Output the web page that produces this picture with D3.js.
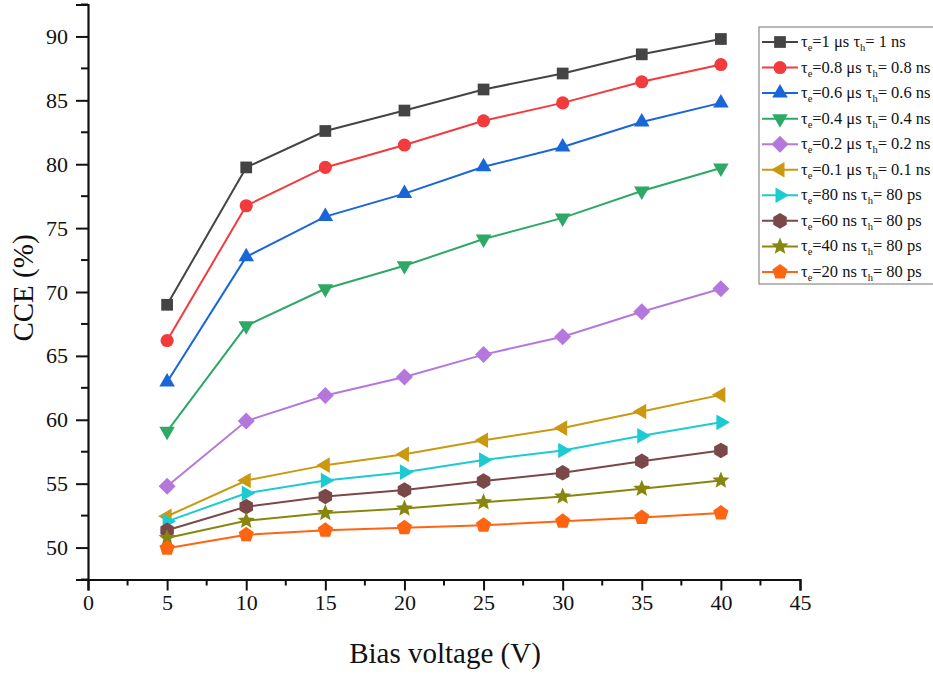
<!DOCTYPE html>
<html>
<head>
<meta charset="utf-8">
<script src="https://cdn.jsdelivr.net/npm/d3@7"></script>
<style>
  body { margin: 0; background: #fff; }
  text { font-family: "Liberation Serif", "Times New Roman", serif; }
</style>
</head>
<body>
<svg id="chart" width="933" height="678"></svg>
<script>
// bias voltage (V)
const voltages = [5, 10, 15, 20, 25, 30, 35, 40];

// CCE (%) per lifetime pair
const cce_1us   = [69.0, 79.75, 82.6, 84.2, 85.85, 87.1, 88.6, 89.8];
const cce_08us  = [66.2, 76.75, 79.75, 81.5, 83.4, 84.8, 86.45, 87.8];
const cce_06us  = [62.95, 72.75, 75.9, 77.7, 79.8, 81.35, 83.3, 84.8];
const cce_04us  = [59.1, 67.35, 70.25, 72.05, 74.15, 75.8, 77.9, 79.7];
const cce_02us  = [54.8, 59.9, 61.9, 63.35, 65.1, 66.5, 68.45, 70.25];
const cce_01us  = [52.45, 55.25, 56.45, 57.3, 58.4, 59.35, 60.65, 61.95];
const cce_80ns  = [52.05, 54.25, 55.25, 55.9, 56.85, 57.6, 58.75, 59.8];
const cce_60ns  = [51.35, 53.2, 54.0, 54.5, 55.2, 55.85, 56.75, 57.6];
const cce_40ns  = [50.75, 52.1, 52.7, 53.05, 53.55, 54.0, 54.6, 55.25];
const cce_20ns  = [49.95, 51.0, 51.35, 51.55, 51.75, 52.05, 52.35, 52.7];

const tauE = ["1 μs", "0.8 μs", "0.6 μs", "0.4 μs", "0.2 μs", "0.1 μs", "80 ns", "60 ns", "40 ns", "20 ns"];
const tauH = ["1 ns", "0.8 ns", "0.6 ns", "0.4 ns", "0.2 ns", "0.1 ns", "80 ps", "80 ps", "80 ps", "80 ps"];

const xTicks = [0, 5, 10, 15, 20, 25, 30, 35, 40, 45];
const yTicks = [50, 55, 60, 65, 70, 75, 80, 85, 90];

const colors = ["#444444", "#f23b3d", "#1966d8", "#2ea865", "#b478dd", "#cb990f", "#1ccbd1", "#7a4848", "#878710", "#ff6511"];
const shapes = ["square", "circle", "up", "down", "diamond", "left", "right", "hexagon", "star", "pentagon"];

const seriesValues = [cce_1us, cce_08us, cce_06us, cce_04us, cce_02us, cce_01us, cce_80ns, cce_60ns, cce_40ns, cce_20ns];
const series = seriesValues.map((vals, i) => ({
  id: i,
  color: colors[i],
  shape: shapes[i],
  e: tauE[i],
  h: tauH[i],
  points: vals.map((v, j) => ({ x: voltages[j], y: v }))
}));

const svg = d3.select("#chart");

const xScale = d3.scaleLinear().domain([0, 45]).range([88, 800]);
const yScale = d3.scaleLinear().domain([47.5, 92.5]).range([579.5, 4.5]);

// marker outlines
const polygon = (n, r, rot) => {
  const pts = d3.range(n).map(k => {
    const a = rot + k * 2 * Math.PI / n;
    return [r * Math.cos(a), r * Math.sin(a)];
  });
  return "M" + pts.map(p => p.join(",")).join("L") + "Z";
};
const starPath = (ro, ri) => {
  const pts = d3.range(10).map(k => {
    const a = -Math.PI / 2 + k * Math.PI / 5;
    const r = k % 2 ? ri : ro;
    return [r * Math.cos(a), r * Math.sin(a)];
  });
  return "M" + pts.map(p => p.join(",")).join("L") + "Z";
};
const markerPath = (shape) => {
  switch (shape) {
    case "square": return polygon(4, 8.3, Math.PI / 4);
    case "circle": return d3.symbol(d3.symbolCircle, 135)();
    case "up": return polygon(3, 9, -Math.PI / 2);
    case "down": return polygon(3, 9, Math.PI / 2);
    case "left": return polygon(3, 9, Math.PI);
    case "right": return polygon(3, 9, 0);
    case "diamond": return polygon(4, 8.5, 0);
    case "hexagon": return polygon(6, 7.8, -Math.PI / 2);
    case "star": return starPath(9, 4);
    case "pentagon": return polygon(5, 8, -Math.PI / 2);
  }
};

// axes
const xAxis = d3.axisBottom(xScale).tickValues(xTicks).tickSize(11).tickPadding(4).tickFormat(d3.format("d"));
const yAxis = d3.axisLeft(yScale).tickValues(yTicks).tickSize(12).tickPadding(8).tickFormat(d3.format("d"));

const gx = svg.append("g").attr("transform", `translate(0, ${yScale(47.5)})`).call(xAxis);
const gy = svg.append("g").attr("transform", `translate(${xScale(0)}, 0)`).call(yAxis);

[gx, gy].forEach(g => {
  g.select(".domain").attr("stroke", "#111").attr("stroke-width", 2.2);
  g.selectAll(".tick line").attr("stroke", "#111").attr("stroke-width", 2);
  g.selectAll(".tick text")
    .attr("fill", "#111")
    .attr("font-size", 22)
    .attr("font-family", "Liberation Serif, Times New Roman, serif");
});

// minor ticks
const xMinor = d3.range(2.5, 45, 5);
const yMinor = d3.range(47.5, 93, 5);
svg.append("g").selectAll("line").data(xMinor).join("line")
  .attr("x1", d => xScale(d)).attr("x2", d => xScale(d))
  .attr("y1", yScale(47.5)).attr("y2", yScale(47.5) + 6)
  .attr("stroke", "#111").attr("stroke-width", 2);
svg.append("g").selectAll("line").data(yMinor).join("line")
  .attr("x1", xScale(0) - 7).attr("x2", xScale(0))
  .attr("y1", d => yScale(d)).attr("y2", d => yScale(d))
  .attr("stroke", "#111").attr("stroke-width", 2);

// axis titles
svg.append("text")
  .attr("x", 445).attr("y", 663)
  .attr("text-anchor", "middle")
  .attr("font-size", 29)
  .attr("fill", "#111")
  .text("Bias voltage (V)");

svg.append("text")
  .attr("transform", `translate(33, 288) rotate(-90)`)
  .attr("text-anchor", "middle")
  .attr("font-size", 29)
  .attr("fill", "#111")
  .text("CCE (%)");

// lines and markers
const line = d3.line().x(d => xScale(d.x)).y(d => yScale(d.y));

const gSeries = svg.append("g").selectAll("g").data(series).join("g");
gSeries.append("path")
  .attr("d", d => line(d.points))
  .attr("fill", "none")
  .attr("stroke", d => d.color)
  .attr("stroke-width", 2);
gSeries.each(function (s) {
  d3.select(this).selectAll("path.mk").data(s.points).join("path")
    .attr("class", "mk")
    .attr("transform", d => `translate(${xScale(d.x)}, ${yScale(d.y)})`)
    .attr("d", markerPath(s.shape))
    .attr("fill", s.color);
});

// legend
const legend = svg.append("g").attr("transform", "translate(759, 27)");
legend.append("rect")
  .attr("x", 0).attr("y", 0)
  .attr("width", 176).attr("height", 257)
  .attr("fill", "#fff")
  .attr("stroke", "#8a8a8a")
  .attr("stroke-width", 1.2);

const rowH = 25.55;
const rows = legend.selectAll("g.row").data(series).join("g")
  .attr("class", "row")
  .attr("transform", (d, i) => `translate(0, ${15 + i * rowH})`);

rows.append("line")
  .attr("x1", 3).attr("x2", 39)
  .attr("stroke", d => d.color)
  .attr("stroke-width", 2);
rows.append("path")
  .attr("transform", "translate(21, 0)")
  .attr("d", d => markerPath(d.shape))
  .attr("fill", d => d.color);

const label = rows.append("text")
  .attr("x", 42).attr("y", 5)
  .attr("font-size", 16.5)
  .attr("fill", "#111");
label.append("tspan").text("τ");
label.append("tspan").attr("dy", 4).attr("font-size", 10.5).text("e");
label.append("tspan").attr("dy", -4).text(d => "=" + d.e + " τ");
label.append("tspan").attr("dy", 4).attr("font-size", 10.5).text("h");
label.append("tspan").attr("dy", -4).text(d => "= " + d.h);
</script>
</body>
</html>
